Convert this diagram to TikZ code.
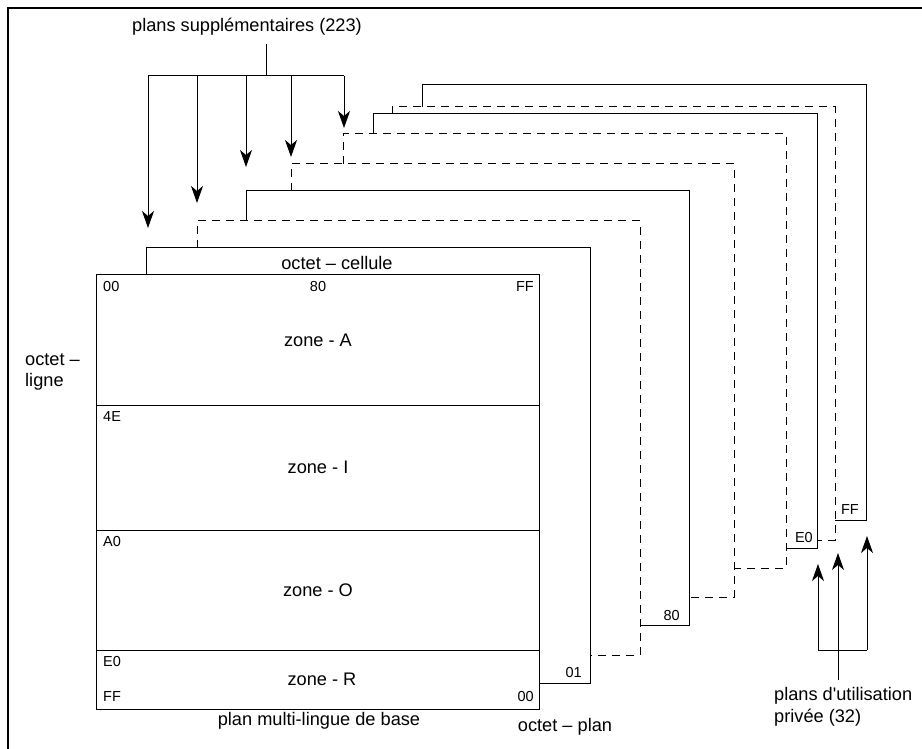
\documentclass[tikz,border=0pt]{standalone}
\usepackage{fontspec}
\setmainfont{Liberation Sans}[Ligatures=TeXOff]
\usetikzlibrary{arrows.meta}

\begin{document}
\begin{tikzpicture}[x=1pt, y=-1pt,
        plane/.style={line width=1pt},
        dashplane/.style={line width=1pt, dash pattern=on 8pt off 6pt},
        big/.style={font=\fontsize{18.2}{21.5}\selectfont, inner sep=0pt},
        small/.style={font=\fontsize{14.5}{17}\selectfont, inner sep=0pt},
        pointer/.style={line width=1pt, -{Stealth[length=17pt,width=12pt,inset=5pt]}}]

        % Page size and frame (only top and left edges show)
        \useasboundingbox (0,0) rectangle (922,749);
        \draw[line width=2.5pt] (8,749) -- (8,8) -- (922,8);

        % Base plane with its four zones
        \draw[plane] (96,274) rectangle (539,709);
        \foreach \y in {405,530,650}
            \draw[plane] (96,\y) -- (539,\y);

        % Solid planes stacked behind
        \foreach \l/\t/\r/\b/\pt/\pr in {146/248/590/683/274/539, 246/191/689/625/221/640,
                373/114/817/548/134/786, 422/85/866/520/107/835}
            \draw[plane] (\l,\pt) -- (\l,\t) -- (\r,\t) -- (\r,\b) -- (\pr,\b);

        % Dashed planes stacked behind
        \foreach \l/\t/\r/\b/\pt/\pr in {197/221/640/655/248/590, 291/164/734/597/191/689,
                343/134/786/568/164/734, 392/107/835/540/114/817}
            \draw[dashplane] (\l,\pt) -- (\l,\t) -- (\r,\t) -- (\r,\b) -- (\pr,\b);

        % Zone names
        \node[big] (zoneA) at (318,340) {zone - A};
        \node[big] (zoneI) at (318,467) {zone - I};
        \node[big] (zoneO) at (318,590) {zone - O};
        \node[big] (zoneR) at (322,679) {zone - R};

        % Row and cell values
        \node[small, anchor=west] (r00) at (103,287) {00};
        \node[small] (c80) at (318,287) {80};
        \node[small, anchor=east] (cFF) at (534,287) {FF};
        \node[small, anchor=west] (r4E) at (103,417) {4E};
        \node[small, anchor=west] (rA0) at (103,542) {A0};
        \node[small, anchor=west] (rE0) at (103,662) {E0};
        \node[small, anchor=west] (rFF) at (103,697) {FF};
        \node[small, anchor=east] (p00) at (534,697) {00};

        % Plane values
        \node[small, anchor=east] (p01) at (582,673) {01};
        \node[small, anchor=east] (p80) at (680,616) {80};
        \node[small, anchor=east] (pE0) at (813,538) {E0};
        \node[small, anchor=east] (pFF) at (859,510) {FF};

        % Axis names
        \node[big] (cellule) at (337,263) {octet – cellule};
        \node[big, anchor=west, align=left] (ligne) at (25,372) {octet –\\ligne};
        \node[big] (plan) at (565,727) {octet – plan};
        \node[big] (base) at (319,721) {plan multi-lingue de base};

        % Supplementary planes
        \node[big] (supp) at (247,27) {plans supplémentaires (223)};
        \coordinate (fork) at (266,76);
        \draw[plane] (266,44) -- (fork);
        \draw[plane] (148,76) -- (344,76);
        \foreach \x/\tip in {148/228, 197/203, 246/167, 291/157, 344/128}
            \draw[pointer] (\x,76) -- (\x,\tip);

        % Private use planes
        \node[big, anchor=west, align=left] (priv) at (774,707) {plans d'utilisation\\privée (32)};
        \coordinate (join) at (838,650);
        \draw[plane] (838,680) -- (join);
        \draw[plane] (818,650) -- (867,650);
        \foreach \x/\tip in {818/564, 838/553, 867/536}
            \draw[pointer] (\x,650) -- (\x,\tip);

    \end{tikzpicture}
\end{document}
